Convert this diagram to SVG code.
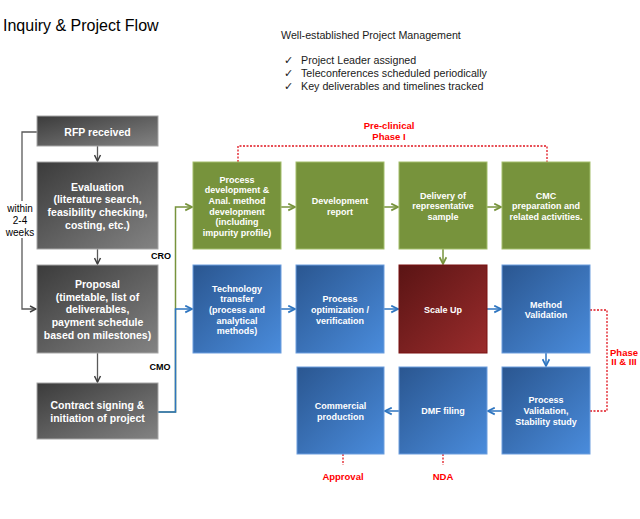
<svg xmlns="http://www.w3.org/2000/svg" width="640" height="519" viewBox="0 0 640 519">
<style>
text{font-family:"Liberation Sans",Arial,sans-serif}
.t{font-size:16px;fill:#000}
.h{font-size:10.7px;fill:#1a1a1a}
.w{font-size:10.5px;font-weight:bold;fill:#fff;text-anchor:middle}
.s{font-size:9px;font-weight:bold;fill:#fff;text-anchor:middle}
.k{font-size:9px;font-weight:bold;fill:#000;text-anchor:middle}
.r{font-size:9.5px;font-weight:bold;fill:#ff0000;text-anchor:middle}
.n{font-size:10px;fill:#000;text-anchor:middle}
.gry{fill:url(#gg);stroke:#a6a6a6;stroke-width:1}
.grn{fill:#77933c;stroke:#a3be6a;stroke-width:1}
.blu{fill:url(#bg);stroke:#6c9ede;stroke-width:1}
.red{fill:url(#rg);stroke:#7a1010;stroke-width:1}
.cg{fill:none;stroke:#595959;stroke-width:1.3}
.cn{fill:none;stroke:#77933c;stroke-width:1.5}
.cb{fill:none;stroke:#2e75c0;stroke-width:1.5}
.cr{fill:none;stroke:#e0141e;stroke-width:1.3;stroke-dasharray:2,1.5}
</style>
<defs>
<linearGradient id="gg" x1="0" y1="0" x2="1" y2="1"><stop offset="0" stop-color="#3b3b3b"/><stop offset="1" stop-color="#838383"/></linearGradient>
<linearGradient id="bg" x1="0" y1="0" x2="1" y2="1"><stop offset="0" stop-color="#2a5690"/><stop offset="1" stop-color="#4a8cdc"/></linearGradient>
<linearGradient id="rg" x1="0" y1="0" x2="1" y2="1"><stop offset="0" stop-color="#5a1414"/><stop offset="1" stop-color="#9a2c2c"/></linearGradient>
<marker id="ag" viewBox="0 0 8 8" refX="7" refY="4" markerWidth="8" markerHeight="8" markerUnits="userSpaceOnUse" orient="auto"><path d="M1,1 L7,4 L1,7" fill="none" stroke="#404040" stroke-width="1.5"/></marker>
<marker id="an" viewBox="0 0 8 8" refX="7" refY="4" markerWidth="9" markerHeight="9" markerUnits="userSpaceOnUse" orient="auto"><path d="M1,1 L7,4 L1,7" fill="none" stroke="#77933c" stroke-width="1.5"/></marker>
<marker id="ab" viewBox="0 0 8 8" refX="7" refY="4" markerWidth="9" markerHeight="9" markerUnits="userSpaceOnUse" orient="auto"><path d="M1,1 L7,4 L1,7" fill="none" stroke="#2e75c0" stroke-width="1.5"/></marker>
</defs>
<rect width="640" height="519" fill="#fff"/>

<g id="header">
<text class="t" x="3" y="31">Inquiry &amp; Project Flow</text>
<text class="h" x="281" y="39">Well-established Project Management</text>
<text class="h" x="284" y="64">✓</text><text class="h" x="301" y="64">Project Leader assigned</text>
<text class="h" x="284" y="77">✓</text><text class="h" x="301" y="77">Teleconferences scheduled periodically</text>
<text class="h" x="284" y="90">✓</text><text class="h" x="301" y="90">Key deliverables and timelines tracked</text>
</g>

<g id="connectors">
<path class="cg" d="M97.5,146 V161" marker-end="url(#ag)"/>
<path class="cg" d="M97.5,249 V264" marker-end="url(#ag)"/>
<path class="cg" d="M97.5,353 V382" marker-end="url(#ag)"/>
<path class="cg" d="M37,132 H22 V201"/>
<path class="cg" d="M22,238 V309 H36" marker-end="url(#ag)"/>
<path class="cn" d="M158,412 H175.5 V207 H192" marker-end="url(#an)"/>
<path class="cb" d="M158,412 H175.5 V309 H192" marker-end="url(#ab)"/>
<path class="cn" d="M281,207 H295" marker-end="url(#an)"/>
<path class="cn" d="M384,207 H398" marker-end="url(#an)"/>
<path class="cn" d="M487,207 H501" marker-end="url(#an)"/>
<path class="cn" d="M443,249 V264" marker-end="url(#an)"/>
<path class="cb" d="M281,309 H295" marker-end="url(#ab)"/>
<path class="cb" d="M384,309 H398" marker-end="url(#ab)"/>
<path class="cb" d="M487,309 H501" marker-end="url(#ab)"/>
<path class="cb" d="M546,353 V366" marker-end="url(#ab)"/>
<path class="cb" d="M502,411 H488" marker-end="url(#ab)"/>
<path class="cb" d="M399,411 H385" marker-end="url(#ab)"/>
<path class="cr" d="M238,162 V146 H547 V162"/>
<path class="cr" d="M590,310 H607 V411 H590"/>
<path class="cr" d="M343,454 V465"/>
<path class="cr" d="M443,454 V465"/>
</g>

<g id="labels">
<text class="n" x="20" y="211.5">within</text>
<text class="n" x="20" y="223.5">2-4</text>
<text class="n" x="20" y="235.5">weeks</text>
<text class="k" x="161" y="259">CRO</text>
<text class="k" x="160" y="370">CMO</text>
<text class="r" x="389" y="128.5">Pre-clinical</text>
<text class="r" x="389" y="139.5">Phase I</text>
<text class="r" x="624" y="355.5">Phase</text>
<text class="r" x="624" y="365">II &amp; III</text>
<text class="r" x="343" y="479.5">Approval</text>
<text class="r" x="443" y="479.5">NDA</text>
</g>

<g id="rfp"><rect class="gry" x="37" y="116" width="121" height="30"/>
<text class="w" x="97.5" y="136">RFP received</text></g>

<g id="evaluation"><rect class="gry" x="37" y="162" width="121" height="87"/>
<text class="w" x="97.5" y="190.5">Evaluation</text>
<text class="w" x="97.5" y="203.2">(literature search,</text>
<text class="w" x="97.5" y="215.9">feasibility checking,</text>
<text class="w" x="97.5" y="228.6">costing, etc.)</text></g>

<g id="proposal"><rect class="gry" x="37" y="265" width="121" height="88"/>
<text class="w" x="97.5" y="287.5">Proposal</text>
<text class="w" x="97.5" y="300.5">(timetable, list of</text>
<text class="w" x="97.5" y="313.2">deliverables,</text>
<text class="w" x="97.5" y="326">payment schedule</text>
<text class="w" x="97.5" y="338.5">based on milestones)</text></g>

<g id="contract"><rect class="gry" x="37" y="383" width="121" height="56"/>
<text class="w" x="97.5" y="409.2">Contract signing &amp;</text>
<text class="w" x="97.5" y="421.8">initiation of project</text></g>

<g id="process-dev"><rect class="grn" x="193" y="162" width="88" height="87"/>
<text class="s" x="237" y="182.5">Process</text>
<text class="s" x="237" y="193.2">development &amp;</text>
<text class="s" x="237" y="203.9">Anal. method</text>
<text class="s" x="237" y="214.6">development</text>
<text class="s" x="237" y="225.3">(including</text>
<text class="s" x="237" y="236">impurity profile)</text></g>

<g id="dev-report"><rect class="grn" x="296" y="162" width="88" height="87"/>
<text class="s" x="340" y="204">Development</text>
<text class="s" x="340" y="214.5">report</text></g>

<g id="delivery"><rect class="grn" x="399" y="162" width="88" height="87"/>
<text class="s" x="443" y="198.5">Delivery of</text>
<text class="s" x="443" y="209.2">representative</text>
<text class="s" x="443" y="219.9">sample</text></g>

<g id="cmc"><rect class="grn" x="502" y="162" width="88" height="87"/>
<text class="s" x="546" y="198.5">CMC</text>
<text class="s" x="546" y="209.2">preparation and</text>
<text class="s" x="546" y="219.9">related activities.</text></g>

<g id="tech-transfer"><rect class="blu" x="193" y="265" width="88" height="88"/>
<text class="s" x="237" y="291.5">Technology</text>
<text class="s" x="237" y="302.2">transfer</text>
<text class="s" x="237" y="312.9">(process and</text>
<text class="s" x="237" y="323.6">analytical</text>
<text class="s" x="237" y="334.3">methods)</text></g>

<g id="process-opt"><rect class="blu" x="296" y="265" width="88" height="88"/>
<text class="s" x="340" y="302.2">Process</text>
<text class="s" x="340" y="312.9">optimization /</text>
<text class="s" x="340" y="323.6">verification</text></g>

<g id="scale-up"><rect class="red" x="399" y="265" width="88" height="88"/>
<text class="s" x="443" y="312.5">Scale Up</text></g>

<g id="method-validation"><rect class="blu" x="502" y="265" width="88" height="88"/>
<text class="s" x="546" y="307.5">Method</text>
<text class="s" x="546" y="318.2">Validation</text></g>

<g id="commercial"><rect class="blu" x="297" y="367" width="87" height="87"/>
<text class="s" x="340.5" y="409">Commercial</text>
<text class="s" x="340.5" y="419.6">production</text></g>

<g id="dmf"><rect class="blu" x="399" y="367" width="88" height="87"/>
<text class="s" x="443" y="414">DMF filing</text></g>

<g id="process-validation"><rect class="blu" x="502" y="367" width="88" height="87"/>
<text class="s" x="546" y="403.2">Process</text>
<text class="s" x="546" y="413.9">Validation,</text>
<text class="s" x="546" y="424.6">Stability study</text></g>
</svg>
